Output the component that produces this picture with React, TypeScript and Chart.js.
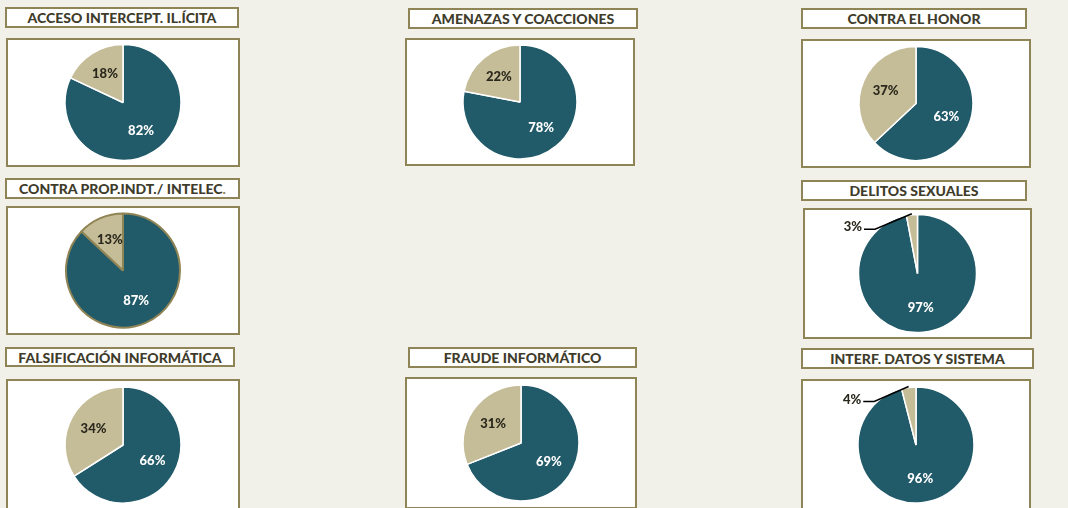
import React, { useEffect, useRef } from "react";
import { Chart, registerables } from "chart.js";

Chart.register(...registerables);

const categories = [
  "ACCESO INTERCEPT. IL.ÍCITA",
  "AMENAZAS Y COACCIONES",
  "CONTRA EL HONOR",
  "CONTRA PROP.INDT./ INTELEC",
  "DELITOS SEXUALES",
  "FALSIFICACIÓN INFORMÁTICA",
  "FRAUDE INFORMÁTICO",
  "INTERF. DATOS Y SISTEMA",
];
const mainShare = [82, 78, 63, 87, 97, 66, 69, 96];
const otherShare = [18, 22, 37, 13, 3, 34, 31, 4];

const TEAL = "#215a69";
const TAN = "#c5bc98";
const OLIVE = "#8f8455";
const BG = "#f1f0e9";
const TEXT = "#403c2b";

// layout: [titleX, titleY, titleW, titleH, boxX, boxY, boxW, boxH]
const layout: number[][] = [
  [5, 7, 234, 21, 6, 38, 234, 129],
  [408, 8, 230, 21, 405, 38, 230, 128],
  [801, 8, 226, 21, 801, 39, 230, 129],
  [5, 178, 235, 21, 6, 206, 234, 129],
  [801, 180, 226, 21, 803, 208, 229, 131],
  [5, 347, 230, 20, 6, 379, 234, 132],
  [408, 347, 229, 21, 405, 377, 232, 132],
  [801, 348, 233, 21, 801, 379, 230, 132],
];
const radii = [58, 57, 57, 57, 59, 58, 58, 58];

const labelPlugin = {
  id: "pieLabels",
  afterDatasetsDraw(chart: any) {
    const ctx = chart.ctx;
    const meta = chart.getDatasetMeta(0);
    const data = chart.data.datasets[0].data as number[];
    ctx.save();
    ctx.font = "900 13px Lato, 'Open Sans', sans-serif";
    meta.data.forEach((arc: any, i: number) => {
      const { x, y, startAngle, endAngle, outerRadius } = arc.getProps(
        ["x", "y", "startAngle", "endAngle", "outerRadius"],
        true
      );
      const mid = (startAngle + endAngle) / 2;
      const v = data[i];
      const txt = v + "%";
      if (v >= 10) {
        const d = outerRadius * 0.58;
        ctx.fillStyle = i === 0 ? "#ffffff" : "#2a281c";
        ctx.textAlign = "center";
        ctx.textBaseline = "middle";
        ctx.fillText(txt, x + Math.cos(mid) * d, y + Math.sin(mid) * d);
      } else {
        const ex = x + Math.cos(mid) * (outerRadius + 1);
        const ey = y + Math.sin(mid) * (outerRadius + 1);
        const bx = x - outerRadius * 0.72;
        const by = y - outerRadius * 0.75;
        const lx = bx - 11;
        ctx.strokeStyle = "#000000";
        ctx.lineWidth = 1.5;
        ctx.beginPath();
        ctx.moveTo(ex, ey);
        ctx.lineTo(bx, by);
        ctx.lineTo(lx, by);
        ctx.stroke();
        ctx.fillStyle = "#2a281c";
        ctx.textAlign = "right";
        ctx.textBaseline = "middle";
        ctx.fillText(txt, lx - 2, by - 2);
      }
    });
    ctx.restore();
  },
};

function PieBox({ idx }: { idx: number }) {
  const ref = useRef<HTMLCanvasElement | null>(null);
  const [, , , , bx, by, bw, bh] = layout[idx];
  useEffect(() => {
    if (!ref.current) return;
    const outlined = idx === 3;
    const chart = new Chart(ref.current, {
      type: "pie",
      data: {
        labels: ["Sí", "No"],
        datasets: [
          {
            data: [mainShare[idx], otherShare[idx]],
            backgroundColor: [TEAL, TAN],
            borderColor: outlined ? OLIVE : "#ffffff",
            borderWidth: outlined ? 2 : 1.5,
            radius: radii[idx],
          } as any,
        ],
      },
      options: {
        animation: false,
        responsive: false,
        maintainAspectRatio: false,
        layout: { padding: 0 },
        plugins: {
          legend: { display: false },
          tooltip: { enabled: false },
          title: { display: false },
        },
      },
      plugins: [labelPlugin],
    });
    return () => chart.destroy();
  }, [idx]);
  return (
    <div
      style={{
        position: "absolute",
        left: bx,
        top: by,
        width: bw,
        height: bh,
        boxSizing: "border-box",
        border: `2px solid ${OLIVE}`,
        background: "#ffffff",
      }}
    >
      <canvas
        ref={ref}
        width={bw - 4}
        height={bh - 4}
        style={{ display: "block", width: bw - 4, height: bh - 4 }}
      />
    </div>
  );
}

function TitleBox({ idx }: { idx: number }) {
  const [tx, ty, tw, th] = layout[idx];
  return (
    <div
      style={{
        position: "absolute",
        left: tx,
        top: ty,
        width: tw,
        height: th,
        boxSizing: "border-box",
        border: `2px solid ${OLIVE}`,
        background: "#ffffff",
        color: TEXT,
        font: "900 14px Lato, 'Open Sans', sans-serif",
        display: "flex",
        alignItems: "center",
        justifyContent: "center",
        whiteSpace: "nowrap",
      }}
    >
      {categories[idx]}
      {idx === 3 ? <span style={{ color: OLIVE }}>.</span> : null}
    </div>
  );
}

export default function App() {
  return (
    <div
      style={{
        position: "fixed",
        left: 0,
        top: 0,
        width: 1068,
        height: 508,
        overflow: "hidden",
        background: BG,
      }}
    >
      {categories.map((_, i) => (
        <React.Fragment key={i}>
          <TitleBox idx={i} />
          <PieBox idx={i} />
        </React.Fragment>
      ))}
    </div>
  );
}
